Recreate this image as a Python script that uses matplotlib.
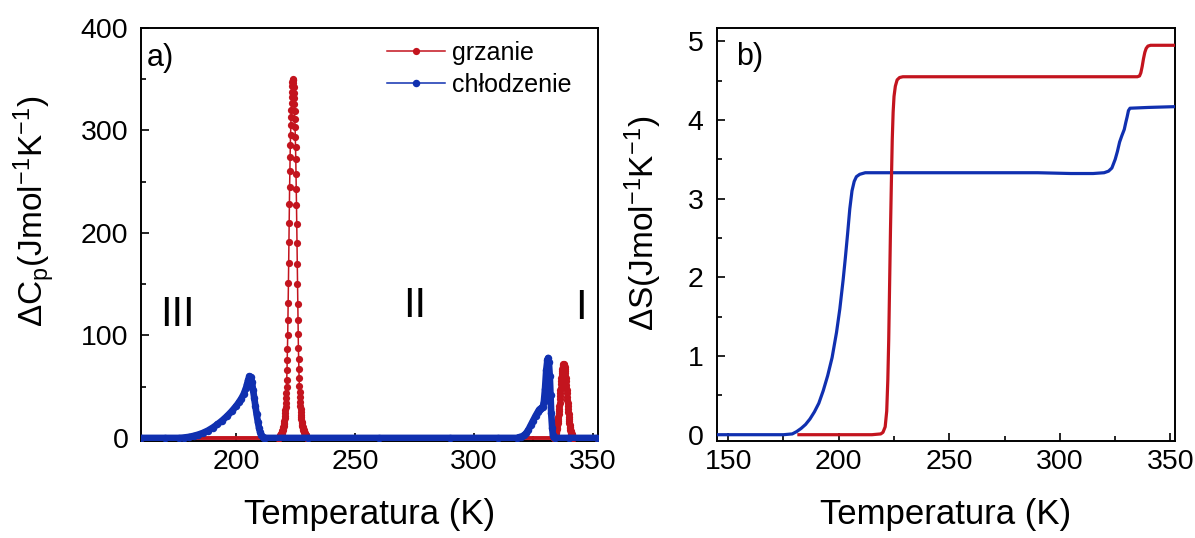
import numpy as np
import matplotlib
matplotlib.use('Agg')
from matplotlib import pyplot as plt
from matplotlib.ticker import MultipleLocator

plt.rcParams['font.family'] = ['Liberation Sans', 'DejaVu Sans']
plt.rcParams['mathtext.fontset'] = 'custom'
plt.rcParams['mathtext.rm'] = 'Liberation Sans'
plt.rcParams['mathtext.it'] = 'Liberation Sans:italic'

RED = '#c3141e'
BLUE = '#1030b0'

# --- DSC, grzanie: dwa piki (ok. 223.8 K i 337.8 K), krok 0.1 K ---
heat_peak1_cp = [0.2, 0.4, 0.7, 1.0, 1.3, 1.6, 2.0, 2.4, 2.8, 3.2,
                 3.6, 4.1, 4.6, 5.2, 5.8, 6.5, 7.2, 8, 9, 10,
                 11, 12, 13.5, 15, 17, 19, 21, 24, 27, 30,
                 34, 39, 44, 50, 57, 66, 76, 87, 100, 115,
                 132, 151, 171, 191, 210, 228, 245, 260, 274, 286,
                 296, 305, 313, 320, 327, 333, 338, 343, 347, 349,
                 350,
                 349, 346, 342, 337, 332, 326, 319, 311, 303, 294,
                 284, 272, 258, 243, 227, 209, 190, 170, 150, 131,
                 115, 101, 88, 77, 67, 58, 51, 45, 40, 35,
                 31, 28, 25, 22, 20, 18, 16, 14.5, 13, 12,
                 11, 10, 9, 8.2, 7.4, 6.7, 6.0, 5.4, 4.8, 4.3,
                 3.8, 3.3, 2.9, 2.5, 2.1, 1.7, 1.3, 1.0, 0.6, 0.3]
heat_peak1_T = np.linspace(217.8, 229.8, len(heat_peak1_cp))

heat_peak2_cp = [0.3, 0.8, 1.4, 2.0, 2.6, 3.2, 3.8, 4.5, 5.3, 6.2,
                 7.2, 8.4, 9.7, 11.2, 12.8, 14.6, 16.6, 18.7, 20.9, 23.4,
                 25.9, 28.7, 31.5, 34.4, 37.5, 40.6, 43.7, 46.8, 49.2, 52.3,
                 55.4, 58.3, 61.0, 63.5, 65.7, 67.6, 69.2, 70.4, 71.0, 71.7,
                 72.0,
                 71.6, 70.9, 70.1, 69.0, 67.4, 65.5, 63.2, 60.7, 58.0, 55.1,
                 52.0, 48.9, 46.4, 43.4, 40.3, 37.2, 34.2, 31.3, 28.5, 25.7,
                 23.2, 20.7, 18.5, 16.4, 14.4, 12.6, 11.0, 9.5, 8.2, 7.0,
                 6.0, 5.1, 4.3, 3.6, 3.0, 2.4, 1.8, 1.2, 0.7, 0.2]
heat_peak2_T = np.linspace(333.8, 341.8, len(heat_peak2_cp))

heat_base_T = [160, 352]
heat_base_cp = [0, 0]

# --- DSC, chłodzenie ---
cool_T = [160, 170, 176, 178, 180, 182, 184, 186, 188, 190,
          192, 194, 196, 198, 200, 201, 202, 203, 204, 204.5,
          205, 205.5, 206, 206.5, 207, 207.5, 208, 208.5, 209, 209.5,
          210, 210.5, 211, 211.5, 212, 230, 260, 290, 310, 318,
          319, 320, 321, 322, 323, 324, 325, 326, 327, 327.5,
          328, 328.5, 329, 329.5, 330, 330.5, 331, 331.3, 331.6, 332,
          332.3, 332.6, 333, 333.3, 333.6, 334, 340, 352]
cool_cp = [0, 0, 0, 0.4, 1.0, 2.0, 3.3, 5.0, 7.2, 10.0,
           13.3, 17.0, 21.2, 26.0, 31.5, 34.7, 38.2, 42.5, 48.5, 52.5,
           57, 60, 59.5, 55, 47, 39, 31, 23, 16, 10,
           5.5, 2.5, 1, 0.3, 0, 0, 0, 0, 0, 0,
           0.5, 1.2, 2.5, 4.5, 8, 12.5, 17, 21.5, 25.5, 27.5,
           28.5, 29, 30, 35, 48, 66, 76, 78, 74, 60,
           42, 24, 10, 3, 0.5, 0, 0, 0]

# --- entropia przemiany ---
heat_S_T = [182, 200, 215, 219, 220, 221, 221.7, 222.2, 222.6, 223.0,
            223.4, 223.8, 224.2, 224.6, 225.0, 225.6, 226.4, 227.5, 229, 250,
            300, 335, 336, 336.6, 337.2, 337.8, 338.4, 339.0, 339.8, 341,
            352]
heat_S = [0, 0, 0, 0.01, 0.03, 0.1, 0.3, 0.7, 1.2, 1.9,
          2.6, 3.2, 3.75, 4.1, 4.3, 4.43, 4.51, 4.54, 4.55, 4.55,
          4.55, 4.55, 4.56, 4.6, 4.68, 4.78, 4.86, 4.91, 4.94, 4.95,
          4.95]

cool_S_T = [145, 160, 175, 179, 181, 183, 185, 187, 189, 191,
            193, 195, 197, 199, 200.5, 202, 203, 204, 205, 206,
            207, 208, 209.5, 212, 250, 290, 305, 315, 320, 322,
            323.5, 325, 326, 327, 328, 329.1, 329.8, 330.4, 331, 331.7,
            340, 352]
cool_S = [0, 0, 0, 0.01, 0.04, 0.08, 0.13, 0.2, 0.29, 0.4,
          0.56, 0.75, 0.98, 1.3, 1.6, 1.97, 2.25, 2.55, 2.87, 3.1,
          3.22, 3.28, 3.31, 3.33, 3.33, 3.33, 3.32, 3.32, 3.33, 3.35,
          3.39, 3.5, 3.6, 3.72, 3.8, 3.88, 3.97, 4.04, 4.12, 4.15,
          4.16, 4.17]

heat_T = np.concatenate([[160, 217.7], heat_peak1_T, [229.9, 333.7], heat_peak2_T, [341.9, 352]])
heat_cp = np.concatenate([[0, 0], heat_peak1_cp, [0, 0], heat_peak2_cp, [0, 0]])

fig = plt.figure(figsize=(11.95, 5.38), dpi=100)
ax1 = fig.add_axes([0.1184, 0.1803, 0.382, 0.7677])
ax2 = fig.add_axes([0.5997, 0.1803, 0.3833, 0.7677])


def style_axes(ax):
    for s in ax.spines.values():
        s.set_linewidth(1.4)
    ax.tick_params(which='both', direction='in', top=False, right=False, width=1.2)
    ax.tick_params(which='major', length=5.5, labelsize=20.5)
    ax.tick_params(which='minor', length=3.5)
    ax.tick_params(axis='x', pad=6)
    ax.tick_params(axis='y', pad=9.5)


# a) ciepło właściwe
ax1.plot(heat_base_T, heat_base_cp, color=RED, lw=2.8, solid_capstyle='butt', zorder=2)
ax1.plot(heat_T, heat_cp, '-o', color=RED, lw=1.1, ms=5.2, mew=0, label='grzanie', zorder=3)
ax1.plot(cool_T, cool_cp, '-', color=BLUE, lw=4.8, solid_capstyle='butt', zorder=4)
ax1.plot(cool_T, cool_cp, '-o', color=BLUE, lw=1.1, ms=5.4, mew=0, label='chłodzenie', zorder=5)

ax1.set_xlim(160, 352.3)
ax1.set_ylim(-3, 400)
ax1.xaxis.set_major_locator(MultipleLocator(50))
ax1.xaxis.set_minor_locator(MultipleLocator(25))
ax1.yaxis.set_major_locator(MultipleLocator(100))
ax1.yaxis.set_minor_locator(MultipleLocator(50))
style_axes(ax1)
ax1.set_xlabel('Temperatura (K)', fontsize=25, labelpad=16)
ax1.set_ylabel(r'ΔC$_\mathrm{p}$(Jmol$^{-1}$K$^{-1}$)', fontsize=24, labelpad=17)
ax1.yaxis.label.set_y(0.555)

ax1.text(0.011, 0.927, 'a)', transform=ax1.transAxes, fontsize=22, ha='left', va='center')
ax1.text(175, 120, 'III', fontsize=30, ha='center', va='center')
ax1.text(275, 129, 'II', fontsize=30, ha='center', va='center')
ax1.text(345, 127, 'I', fontsize=30, ha='center', va='center')

ax1.legend(loc='upper left', bbox_to_anchor=(0.538, 0.968), frameon=False,
           fontsize=18, numpoints=1, handlelength=2.3, handletextpad=0.3,
           labelspacing=0.3, borderpad=0, borderaxespad=0)

# b) entropia
ax2.plot(cool_S_T, cool_S, color=BLUE, lw=2.3, zorder=3)
ax2.plot(heat_S_T, heat_S, color=RED, lw=2.3, zorder=4)

ax2.set_xlim(144.8, 351.9)
ax2.set_ylim(-0.08, 5.17)
ax2.xaxis.set_major_locator(MultipleLocator(50))
ax2.xaxis.set_minor_locator(MultipleLocator(25))
ax2.yaxis.set_major_locator(MultipleLocator(1))
ax2.yaxis.set_minor_locator(MultipleLocator(0.5))
style_axes(ax2)
ax2.set_xlabel('Temperatura (K)', fontsize=25, labelpad=16)
ax2.set_ylabel(r'ΔS(Jmol$^{-1}$K$^{-1}$)', fontsize=24, labelpad=17)
ax2.yaxis.label.set_y(0.527)
ax2.text(0.042, 0.93, 'b)', transform=ax2.transAxes, fontsize=22, ha='left', va='center')

fig.savefig('out.png', dpi=100)
